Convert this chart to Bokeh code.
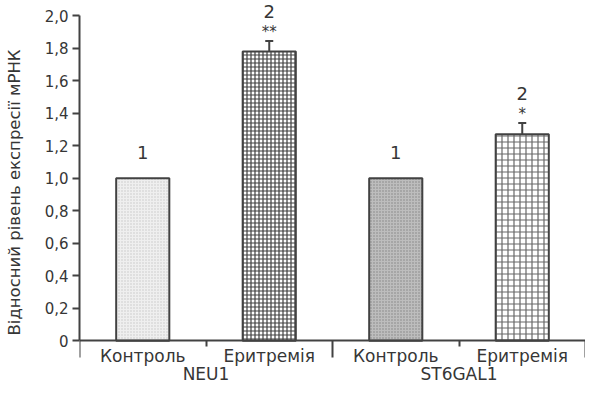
from bokeh.plotting import figure
from bokeh.models import (ColumnDataSource, Range1d, FixedTicker, LabelSet,
                          Whisker, TeeHead)
from bokeh.core.properties import value
from bokeh.embed import file_html
from bokeh.resources import INLINE

# ---- data ----
genes = ["NEU1", "ST6GAL1"]
groups = ["Контроль", "Еритремія", "Контроль", "Еритремія"]
bar_gene = ["NEU1", "NEU1", "ST6GAL1", "ST6GAL1"]
values = [1.00, 1.78, 1.00, 1.27]
errors = [0.0, 0.065, 0.0, 0.07]
group_marks = ["1", "2", "1", "2"]
stars = ["", "**", "", "*"]
y_ticks = [0, 0.2, 0.4, 0.6, 0.8, 1.0, 1.2, 1.4, 1.6, 1.8, 2.0]
y_tick_labels = ["0", "0,2", "0,4", "0,6", "0,8", "1,0", "1,2", "1,4", "1,6", "1,8", "2,0"]
y_label = "Відносний рівень експресії мРНК"

# ---- styles ----
FONT = "DejaVu Sans"
TXT = "#363636"
LINE = "#424242"
fills = ["#efefef", "#ffffff", "#bdbdbd", "#ffffff"]
hatches = ["dot", "cross", "dot", "cross"]
hcolors = ["#c8c8c8", "#404040", "#858585", "#686868"]
hscales = [3.0, 4.0, 3.0, 6.0]

n = len(groups)
xs = [i + 0.5 for i in range(n)]
tops = [v + e for v, e in zip(values, errors)]
gene_x = []
for g in genes:
    px = [x for x, bg in zip(xs, bar_gene) if bg == g]
    gene_x.append(sum(px) / len(px))
gene_bounds = [0]
for g in genes:
    gene_bounds.append(gene_bounds[-1] + bar_gene.count(g))
minor_bounds = [i for i in range(n + 1) if i not in gene_bounds]

src = ColumnDataSource(dict(
    x=xs, top=values, tops=tops, grp=groups, mark=group_marks, star=stars,
    fill=fills, hatch=hatches, hcolor=hcolors, hscale=hscales,
    zero=[0] * n, moff=[29 if s else 26 for s in stars],
))
err_idx = [i for i in range(n) if errors[i] > 0]
err_src = ColumnDataSource(dict(
    x=[xs[i] for i in err_idx],
    upper=[values[i] + errors[i] for i in err_idx],
    lower=[values[i] - errors[i] for i in err_idx],
))
gene_src = ColumnDataSource(dict(x=gene_x, y=[0] * len(genes), name=genes))

y_top = y_ticks[-1]
# frame extends below zero so that the category texts sit inside it
p = figure(width=585, height=384, x_range=Range1d(0, n),
           y_range=Range1d(-0.27, y_top * 1.047),
           output_backend="svg", toolbar_location=None)
p.min_border = 0
p.min_border_left = 79
p.min_border_right = 0
p.min_border_top = 0
p.min_border_bottom = 0
p.outline_line_color = None
p.xgrid.visible = False
p.ygrid.visible = False
p.background_fill_color = "white"

p.vbar(x="x", top="top", bottom=0, width=0.42, source=src,
       fill_color="fill", hatch_pattern="hatch", hatch_color="hcolor",
       hatch_scale="hscale", hatch_weight=1.2, line_color=LINE, line_width=2)

p.add_layout(Whisker(source=err_src, base="x", upper="upper", lower="lower",
                     line_color=LINE, line_width=2,
                     upper_head=TeeHead(size=8, line_color=LINE, line_width=2),
                     lower_head=TeeHead(size=8, line_color=LINE, line_width=2)))

# x axis at value 0 with boundary ticks drawn downward
xa = p.xaxis[0]
xa.fixed_location = 0
xa.ticker = FixedTicker(ticks=gene_bounds, minor_ticks=minor_bounds)
xa.major_label_overrides = {b: "" for b in gene_bounds}
xa.major_label_text_font_size = "1px"
xa.major_label_standoff = 0
xa.axis_line_color = LINE
xa.axis_line_width = 2
xa.major_tick_line_color = LINE
xa.major_tick_line_width = 2
xa.major_tick_out = 0
xa.major_tick_in = -17
xa.minor_tick_line_color = LINE
xa.minor_tick_line_width = 2
xa.minor_tick_out = 0
xa.minor_tick_in = -6

# y axis
ya = p.yaxis[0]
ya.ticker = FixedTicker(ticks=y_ticks, minor_ticks=[])
ya.bounds = (y_ticks[0], y_top)
ya.major_label_overrides = dict(zip(y_ticks, y_tick_labels))
ya.axis_line_color = LINE
ya.axis_line_width = 2
ya.major_tick_line_color = LINE
ya.major_tick_line_width = 2
ya.major_tick_out = 7
ya.major_tick_in = 0
ya.major_label_standoff = 4
ya.major_label_text_font = FONT
ya.major_label_text_font_size = "15px"
ya.major_label_text_color = TXT
ya.axis_label = y_label
ya.axis_label_text_font = FONT
ya.axis_label_text_font_size = "16.5px"
ya.axis_label_text_font_style = "normal"
ya.axis_label_text_color = TXT
ya.axis_label_standoff = 18

common = dict(text_font=value(FONT), text_color=TXT, text_align="center",
              text_baseline="middle")
p.add_layout(LabelSet(source=src, x="x", y="zero", text="grp", y_offset=-15,
                      text_font_size="17px", **common))
p.add_layout(LabelSet(source=gene_src, x="x", y="y", text="name", y_offset=-33,
                      text_font_size="17px", **common))
p.add_layout(LabelSet(source=src, x="x", y="tops", text="mark", y_offset="moff",
                      text_font_size="18px", **common))
p.add_layout(LabelSet(source=src, x="x", y="tops", text="star", y_offset=9,
                      text_font_size="15px", **common))

open("out.html", "w").write(file_html(p, INLINE))
